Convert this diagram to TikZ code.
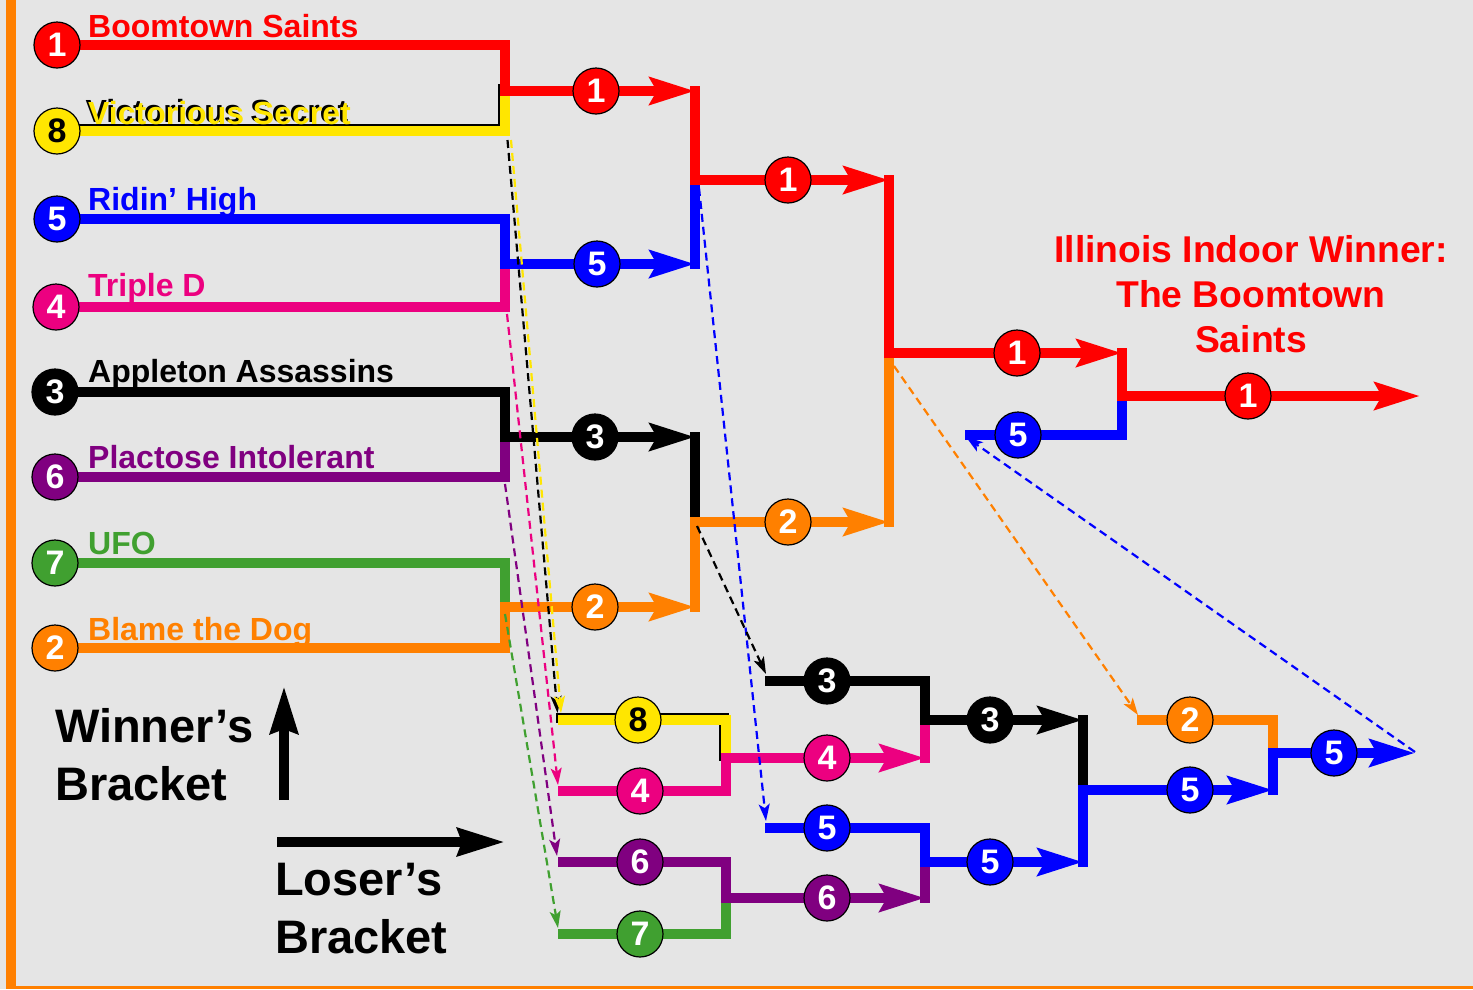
\documentclass[tikz,border=0pt]{standalone}
\usepackage{fontspec}
\setmainfont{Liberation Sans}
\usetikzlibrary{arrows.meta}
\definecolor{cR}{HTML}{FF0000}
\definecolor{cY}{HTML}{FFE600}
\definecolor{cB}{HTML}{0000FF}
\definecolor{cP}{HTML}{EC0080}
\definecolor{cV}{HTML}{800080}
\definecolor{cG}{HTML}{40A030}
\definecolor{cO}{HTML}{FF8000}
\definecolor{cBg}{HTML}{E5E5E5}
\pgfdeclarelayer{back}
\pgfdeclarelayer{lines}
\pgfdeclarelayer{dash}
\pgfsetlayers{back,lines,dash,main}
\begin{document}
\begin{tikzpicture}[x=1pt,y=-1pt,
  L/.style={line width=10pt,line cap=rect},
  arr/.style={-{Stealth[length=45pt,width=27pt,inset=7pt]}},
  dsh/.style={line width=2.2pt,dash pattern=on 8pt off 5pt,-{Stealth[length=17pt,width=11pt,inset=4pt]}},
  seed/.style={circle,draw=black,line width=1.2pt,minimum size=46pt,inner sep=0pt,text=white,font=\fontsize{34}{34}\selectfont\bfseries},
  team/.style={anchor=base west,inner sep=0pt,font=\fontsize{32}{32}\selectfont\bfseries},
  big/.style={anchor=base west,inner sep=0pt,font=\fontsize{47}{47}\selectfont\bfseries},
  ttl/.style={anchor=base,inner sep=0pt,text=cR,font=\fontsize{37.3}{37.3}\selectfont\bfseries},
  legarr/.style={line width=10pt,-{Stealth[length=47pt,width=27pt,inset=4pt]}}]
\begin{pgfonlayer}{back}
\fill[cBg] (0,0) rectangle (1473,989);
\fill[cO] (6,0) rectangle (16,989);
\fill[cO] (6,986) rectangle (1473,989);
\end{pgfonlayer}
\useasboundingbox (0,0) rectangle (1473,989);

% bracket columns
\coordinate (X1) at (505,0);
\coordinate (X2) at (695,0);
\coordinate (X3) at (889,0);
\coordinate (X4) at (1122,0);
\coordinate (XE) at (1420,0);
\coordinate (GX) at (970,0);
\coordinate (LX0) at (563,0);
\coordinate (LX1) at (726,0);
\coordinate (LX2s) at (770,0);
\coordinate (LX2) at (925,0);
\coordinate (LX3) at (1083,0);
\coordinate (LX4s) at (1142,0);
\coordinate (LX4) at (1273,0);
\coordinate (LXE) at (1415,0);

% seeds
\node[seed,fill=cR] (s1) at (57,45) {1};
\node[seed,fill=cY,text=black] (s8) at (57,131) {8};
\node[seed,fill=cB] (s5) at (57,219) {5};
\node[seed,fill=cP] (s4) at (56,307) {4};
\node[seed,fill=black] (s3) at (55,392) {3};
\node[seed,fill=cV] (s6) at (55,477) {6};
\node[seed,fill=cG] (s7) at (55,563) {7};
\node[seed,fill=cO] (s2) at (55,648) {2};

% winners bracket results
\node[seed,fill=cR] (w1) at (596,91) {1};
\node[seed,fill=cB] (w2) at (597,264) {5};
\node[seed,fill=black] (w3) at (595,437) {3};
\node[seed,fill=cO] (w4) at (595,607) {2};
\node[seed,fill=cR] (w5) at (788,180) {1};
\node[seed,fill=cO] (w6) at (788,522) {2};
\node[seed,fill=cR] (w7) at (1017,353) {1};
\node[seed,fill=cR] (w8) at (1248,396) {1};
\node[seed,fill=cB] (g5) at (1018,435) {5};

% losers bracket
\node[seed,fill=cY,text=black] (l8) at (638,720) {8};
\node[seed,fill=cP] (l4) at (640,791) {4};
\node[seed,fill=cV] (l6) at (640,862) {6};
\node[seed,fill=cG] (l7) at (640,934) {7};
\node[seed,fill=cP] (m4) at (827,758) {4};
\node[seed,fill=cV] (m6) at (827,898) {6};
\node[seed,fill=black] (d3) at (827,681) {3};
\node[seed,fill=cB] (d5) at (827,828) {5};
\node[seed,fill=black] (n3) at (990,720) {3};
\node[seed,fill=cB] (n5) at (990,862) {5};
\node[seed,fill=cO] (q2) at (1190,720) {2};
\node[seed,fill=cB] (q5) at (1190,790) {5};
\node[seed,fill=cB] (z5) at (1334,753) {5};

\begin{pgfonlayer}{lines}
% W R1
\draw[L,black,transform canvas={xshift=-2.5pt,yshift=2.5pt}] (s8.center) -- (s8 -| X1) -- (X1 |- w1);
\draw[L,cY] (s8.center) -- (s8 -| X1) -- (X1 |- w1);
\draw[L,cR,arr] (s1.center) -- (s1 -| X1) -- (X1 |- w1) -- (w1 -| X2);
\draw[L,cP] (s4.center) -- (s4 -| X1) -- (X1 |- w2);
\draw[L,cB,arr] (s5.center) -- (s5 -| X1) -- (X1 |- w2) -- (w2 -| X2);
\draw[L,cV] (s6.center) -- (s6 -| X1) -- (X1 |- w3);
\draw[L,black,arr] (s3.center) -- (s3 -| X1) -- (X1 |- w3) -- (w3 -| X2);
\draw[L,cG] (s7.center) -- (s7 -| X1) -- (X1 |- w4);
\draw[L,cO,arr] (s2.center) -- (s2 -| X1) -- (X1 |- w4) -- (w4 -| X2);
% W R2
\draw[L,cB] (X2 |- w2) -- (X2 |- w5);
\draw[L,cR,arr] (X2 |- w1) -- (X2 |- w5) -- (w5 -| X3);
\draw[L,black] (X2 |- w3) -- (X2 |- w6);
\draw[L,cO,arr] (X2 |- w4) -- (X2 |- w6) -- (w6 -| X3);
% W R3
\draw[L,cO] (X3 |- w6) -- (X3 |- w7);
\draw[L,cR,arr] (X3 |- w5) -- (X3 |- w7) -- (w7 -| X4);
% Grand final
\draw[L,cB] (GX |- g5) -- (X4 |- g5) -- (X4 |- w8);
\draw[L,cR,arr] (X4 |- w7) -- (X4 |- w8) -- (w8 -| XE);
% L R1
\draw[L,black,transform canvas={xshift=-2.5pt,yshift=2.5pt}] (LX0 |- l8) -- (LX1 |- l8) -- (LX1 |- m4);
\draw[L,cY] (LX0 |- l8) -- (LX1 |- l8) -- (LX1 |- m4);
\draw[L,cP,arr] (LX0 |- l4) -- (LX1 |- l4) -- (LX1 |- m4) -- (m4 -| LX2);
\draw[L,cG] (LX0 |- l7) -- (LX1 |- l7) -- (LX1 |- m6);
\draw[L,cV,arr] (LX0 |- l6) -- (LX1 |- l6) -- (LX1 |- m6) -- (m6 -| LX2);
% L R2
\draw[L,cP] (LX2 |- m4) -- (LX2 |- n3);
\draw[L,black,arr] (LX2s |- d3) -- (LX2 |- d3) -- (LX2 |- n3) -- (n3 -| LX3);
\draw[L,cV] (LX2 |- m6) -- (LX2 |- n5);
\draw[L,cB,arr] (LX2s |- d5) -- (LX2 |- d5) -- (LX2 |- n5) -- (n5 -| LX3);
% L R3
\draw[L,black] (LX3 |- n3) -- (LX3 |- q5);
\draw[L,cB,arr] (LX3 |- n5) -- (LX3 |- q5) -- (q5 -| LX4);
% L final
\draw[L,cO] (LX4s |- q2) -- (LX4 |- q2) -- (LX4 |- z5);
\draw[L,cB,arr] (LX4 |- q5) -- (LX4 |- z5) -- (z5 -| LXE);
\end{pgfonlayer}

% dashed drop arrows
\coordinate (d8a) at (511,140);
\coordinate (d8b) at (561,713);
\coordinate (d4a) at (507,314);
\coordinate (d4b) at (558,785);
\coordinate (d6a) at (505,484);
\coordinate (d6b) at (557,856);
\coordinate (d7a) at (505,614);
\coordinate (d7b) at (558,928);
\coordinate (d5a) at (699,188);
\coordinate (d5b) at (766,821);
\coordinate (d3a) at (697,526);
\coordinate (d3b) at (766,674);
\coordinate (d2a) at (894,366);
\coordinate (d2b) at (1138,715);
\coordinate (dfa) at (1415,752);
\coordinate (dfb) at (966,437);
\begin{pgfonlayer}{dash}
\draw[dsh,black,transform canvas={xshift=-3.5pt}] (d8a) -- (d8b);
\draw[dsh,cY] (d8a) -- (d8b);
\draw[dsh,cP] (d4a) -- (d4b);
\draw[dsh,cV] (d6a) -- (d6b);
\draw[dsh,cG] (d7a) -- (d7b);
\draw[dsh,cB] (d5a) -- (d5b);
\draw[dsh,black] (d3a) -- (d3b);
\draw[dsh,cO] (d2a) -- (d2b);
\draw[dsh,cB] (dfa) -- (dfb);
\end{pgfonlayer}

% team names
\node[team,text=cR] (n1) at (88,37) {Boomtown Saints};
\node[team,text=black] (n8s) at (85.5,122.5) {Victorious Secret};
\node[team,text=cY] (n8) at (88,124) {Victorious Secret};
\node[team,text=cB] (n5) at (88,210) {Ridin’ High};
\node[team,text=cP] (n4) at (88,296) {Triple D};
\node[team,text=black] (n3) at (88,382) {Appleton Assassins};
\node[team,text=cV] (n6) at (88,468) {Plactose Intolerant};
\node[team,text=cG] (n7) at (88,554) {UFO};
\node[team,text=cO] (n2) at (88,640) {Blame the Dog};

% title
\node[ttl] (t1) at (1251,262) {Illinois Indoor Winner:};
\node[ttl] (t2) at (1251,307) {The Boomtown};
\node[ttl] (t3) at (1251,352) {Saints};

% legend
\node[big] (wb1) at (55,742) {Winner’s};
\node[big] (wb2) at (55,800) {Bracket};
\node[big] (lb1) at (275,895) {Loser’s};
\node[big] (lb2) at (275,953) {Bracket};
\coordinate (ua) at (284,800);
\coordinate (ub) at (284,686);
\coordinate (ra) at (277,842);
\coordinate (rb) at (505,842);
\draw[legarr] (ua) -- (ub);
\draw[legarr] (ra) -- (rb);
\end{tikzpicture}
\end{document}
